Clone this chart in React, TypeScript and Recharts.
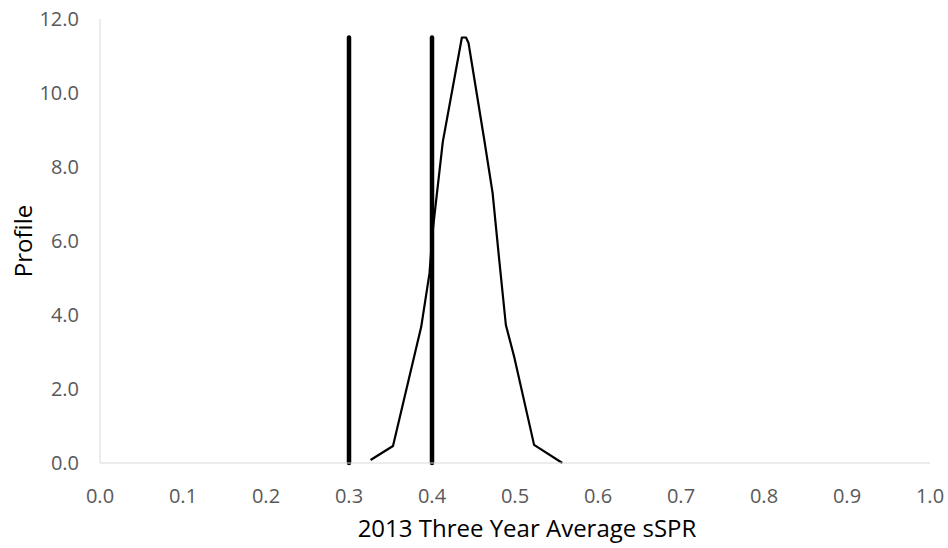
import React from 'react';
import { LineChart, Line, XAxis, YAxis } from 'recharts';

// profile curve
const sprValues = [0.326, 0.353, 0.387, 0.397, 0.401, 0.405, 0.413, 0.436, 0.441, 0.444, 0.463, 0.473, 0.481, 0.489, 0.499, 0.523, 0.557];
const profileValues = [0.08, 0.46, 3.68, 5.13, 6.3, 7.1, 8.68, 11.5, 11.5, 11.35, 8.73, 7.3, 5.49, 3.73, 2.87, 0.49, 0.0];

// vertical reference bars
const markerX = [0.3, 0.4];
const markerTop = 11.5;

const xTicks = [0, 0.1, 0.2, 0.3, 0.4, 0.5, 0.6, 0.7, 0.8, 0.9, 1.0];
const yTicks = [0, 2, 4, 6, 8, 10, 12];

const xTitle = '2013 Three Year Average sSPR';
const yTitle = 'Profile';

const profileData = sprValues.map((x, i) => ({ x, y: profileValues[i] }));
const markerData = markerX.map(x => [{ x, y: 0 }, { x, y: markerTop }]);

const FONT = 'Open Sans, sans-serif';

const App: React.FC = () => {
  return (
    <div style={{ position: 'absolute', left: 0, top: 0, width: 948, height: 548, background: '#fff' }}>
      <LineChart width={948} height={548} margin={{ top: 19, right: 18, left: 0, bottom: 0 }}>
        <XAxis
          dataKey="x"
          type="number"
          domain={[0, 1]}
          ticks={xTicks}
          tickFormatter={(v: number) => v.toFixed(1)}
          tickLine={false}
          tickSize={0}
          tickMargin={26}
          height={85}
          axisLine={{ stroke: '#d9d9d9', strokeWidth: 1 }}
          tick={{ fill: '#595959', fontSize: 20, fontFamily: FONT }}
          label={() => (
            <text x={527} y={537} textAnchor="middle" fill="#000" fontSize={24} fontFamily={FONT}>
              {xTitle}
            </text>
          )}
          allowDuplicatedCategory={false}
        />
        <YAxis
          dataKey="y"
          type="number"
          domain={[0, 12]}
          ticks={yTicks}
          tickFormatter={(v: number) => v.toFixed(1)}
          tickLine={false}
          tickSize={0}
          tickMargin={21}
          width={100}
          axisLine={{ stroke: '#d9d9d9', strokeWidth: 1 }}
          tick={{ fill: '#595959', fontSize: 20, fontFamily: FONT }}
          label={() => (
            <text x={32} y={241} transform="rotate(-90 32 241)" textAnchor="middle" fill="#000" fontSize={24} fontFamily={FONT}>
              {yTitle}
            </text>
          )}
        />
        {markerData.map((d, i) => (
          <Line
            key={i}
            data={d}
            dataKey="y"
            stroke="#000"
            strokeWidth={4.5}
            strokeLinecap="round"
            dot={false}
            activeDot={false}
            isAnimationActive={false}
          />
        ))}
        <Line
          data={profileData}
          dataKey="y"
          stroke="#000"
          strokeWidth={2.2}
          strokeLinejoin="round"
          dot={false}
          activeDot={false}
          type="linear"
          isAnimationActive={false}
        />
      </LineChart>
    </div>
  );
};

export default App;
